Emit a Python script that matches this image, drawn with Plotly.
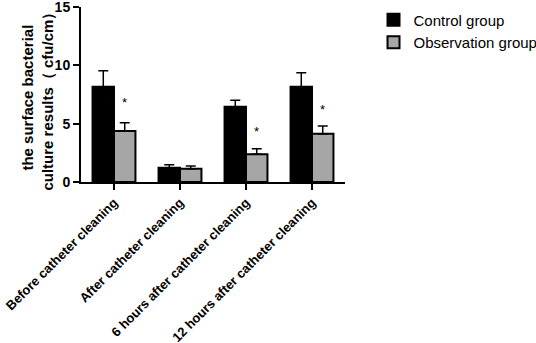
import plotly.graph_objects as go

categories = ["Before catheter cleaning", "After catheter cleaning",
              "6 hours after catheter cleaning", "12 hours after catheter cleaning"]
control = [8.17, 1.23, 6.45, 8.17]
control_err = [1.37, 0.25, 0.55, 1.2]
observation = [4.37, 1.14, 2.37, 4.14]
observation_err = [0.71, 0.23, 0.48, 0.66]
star_groups = [0, 2, 3]
star_y = [6.8, 4.3, 6.2]
y_title = "the surface bacterial<br>culture results（ cfu/cm）"

fig = go.Figure()
fig.add_trace(go.Bar(
    x=categories, y=control, name="Control group",
    marker=dict(color="black", line=dict(color="black", width=2)),
    error_y=dict(type="data", array=control_err, arrayminus=[0]*4, symmetric=False,
                 color="black", thickness=1.5, width=5),
))
fig.add_trace(go.Bar(
    x=categories, y=observation, name="Observation group",
    marker=dict(color="#a6a6a6", line=dict(color="black", width=2)),
    error_y=dict(type="data", array=observation_err, arrayminus=[0]*4, symmetric=False,
                 color="black", thickness=1.5, width=5),
))

for g, yv in zip(star_groups, star_y):
    fig.add_annotation(x=g + 0.1625, y=yv, text="*", showarrow=False,
                       font=dict(size=13, color="black", family="Liberation Sans"),
                       xref="x", yref="y")

fig.add_annotation(x=-0.165, y=0.485, xref="paper", yref="paper", text=y_title,
                   textangle=-90, showarrow=False, xanchor="center", yanchor="middle",
                   font=dict(size=15, family="Liberation Sans", weight="bold", color="black"))

fig.update_layout(
    width=536, height=343,
    margin=dict(l=81, r=191, t=7, b=161, autoexpand=False),
    paper_bgcolor="white", plot_bgcolor="white",
    barmode="group", bargap=0.35, bargroupgap=0,
    font=dict(family="Liberation Sans", color="black"),
    showlegend=True,
    legend=dict(x=1.108, y=1.02, xanchor="left", yanchor="top",
                font=dict(size=15, color="black"), tracegroupgap=4,
                itemsizing="constant"),
    xaxis=dict(
        type="category", range=[-0.5, 3.5], automargin=False,
        showline=True, linecolor="black", linewidth=2,
        ticks="outside", ticklen=6, tickwidth=2, tickcolor="black",
        tickangle=-45, tickfont=dict(size=13, family="Liberation Sans", weight="bold"),
        ticklabeloverflow="allow",
        showgrid=False, zeroline=False,
    ),
    yaxis=dict(
        range=[0, 15], tickvals=[0, 5, 10, 15], automargin=False,
        showline=True, linecolor="black", linewidth=2,
        ticks="outside", ticklen=6, tickwidth=2, tickcolor="black",
        tickfont=dict(size=14, family="Liberation Sans", weight="bold"),
        ticklabeloverflow="allow",
        showgrid=False, zeroline=False,
    ),
)

fig.write_html("out.html", config={"displayModeBar": False},
               post_script="document.body.style.margin='0';")
